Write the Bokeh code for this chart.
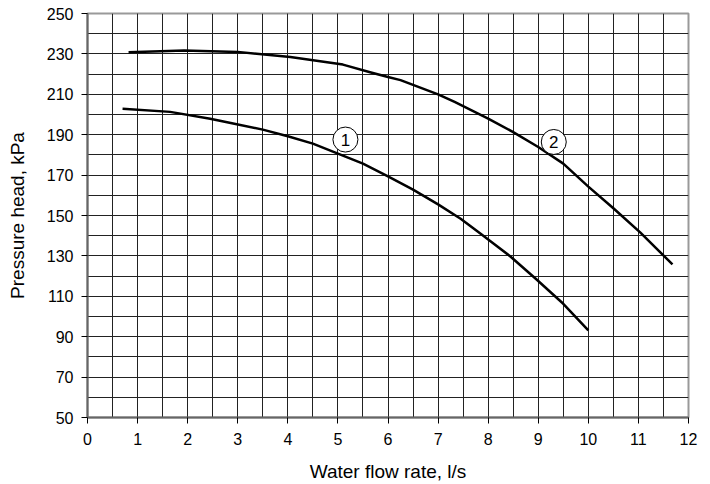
from bokeh.plotting import figure
from bokeh.models import SingleIntervalTicker, FixedTicker, Range1d, ColumnDataSource
from bokeh.embed import file_html
from bokeh.resources import INLINE
from bokeh.core.properties import value

# Pump curve 1
x1 = [0.7, 1.65, 2.45, 2.86, 3.5, 4.0, 4.5, 5.0, 5.5, 6.0, 6.5, 7.0, 7.45, 7.85, 8.45, 8.95, 9.5, 10.0]
y1 = [202.9, 201.3, 197.9, 195.8, 192.5, 189.2, 185.6, 180.6, 175.7, 169.4, 162.8, 155.5, 148.4, 141.0, 129.6, 118.7, 106.3, 93.1]
# Pump curve 2
x2 = [0.82, 1.93, 3.0, 4.05, 5.1, 5.66, 6.0, 6.25, 7.0, 7.33, 8.0, 8.5, 9.0, 9.5, 10.0, 10.5, 11.04, 11.68]
y2 = [230.8, 231.7, 231.0, 228.5, 224.7, 220.8, 218.6, 217.0, 210.0, 206.2, 198.0, 191.3, 183.9, 175.7, 164.3, 153.6, 141.5, 125.8]
# Curve labels
label_x = [5.15, 9.31]
label_y = [187.6, 186.4]
label_text = ["1", "2"]

y_ticks = list(range(50, 251, 20))
y_minor = list(range(60, 251, 20))

FONT = "Liberation Sans"

p = figure(width=710, height=484, output_backend="svg", toolbar_location=None,
           x_range=Range1d(0, 12), y_range=Range1d(50, 250),
           min_border_left=87, min_border_right=22, min_border_top=13, min_border_bottom=67)

p.xaxis.ticker = SingleIntervalTicker(interval=1, num_minor_ticks=2)
p.yaxis.ticker = FixedTicker(ticks=y_ticks, minor_ticks=y_minor)

for g in (p.xgrid, p.ygrid):
    g.grid_line_color = "#222222"
    g.grid_line_width = 1
    g.minor_grid_line_color = "#222222"
    g.minor_grid_line_width = 1

p.outline_line_color = "#999999"
p.outline_line_width = 2

for ax in (p.xaxis, p.yaxis):
    ax.axis_line_color = "#666666"
    ax.axis_line_width = 2
    ax.major_tick_line_color = "#000000"
    ax.major_tick_out = 6
    ax.major_tick_in = 0
    ax.minor_tick_line_color = None
    ax.major_label_text_font = FONT
    ax.major_label_text_font_size = "16px"
    ax.major_label_text_color = "#000000"
    ax.axis_label_text_font = FONT
    ax.axis_label_text_font_size = "19px"
    ax.axis_label_text_font_style = "normal"
    ax.axis_label_text_color = "#000000"

p.xaxis.axis_label = "Water flow rate, l/s"
p.yaxis.axis_label = "Pressure head, kPa"
p.xaxis.major_label_standoff = 9
p.yaxis.major_label_standoff = 8
p.xaxis.axis_label_standoff = 13
p.yaxis.axis_label_standoff = 16

p.line(x1, y1, line_color="#000000", line_width=2.5, line_join="round")
p.line(x2, y2, line_color="#000000", line_width=2.5, line_join="round")

src = ColumnDataSource(dict(x=label_x, y=label_y, t=label_text))
p.scatter("x", "y", source=src, marker="circle", size=25, fill_color="white",
          line_color="#000000", line_width=1)
p.text("x", "y", text="t", source=src, text_align="center", text_baseline="middle",
       text_font=value(FONT), text_font_size="17px", text_color="#000000")

open("out.html", "w").write(file_html(p, INLINE))
